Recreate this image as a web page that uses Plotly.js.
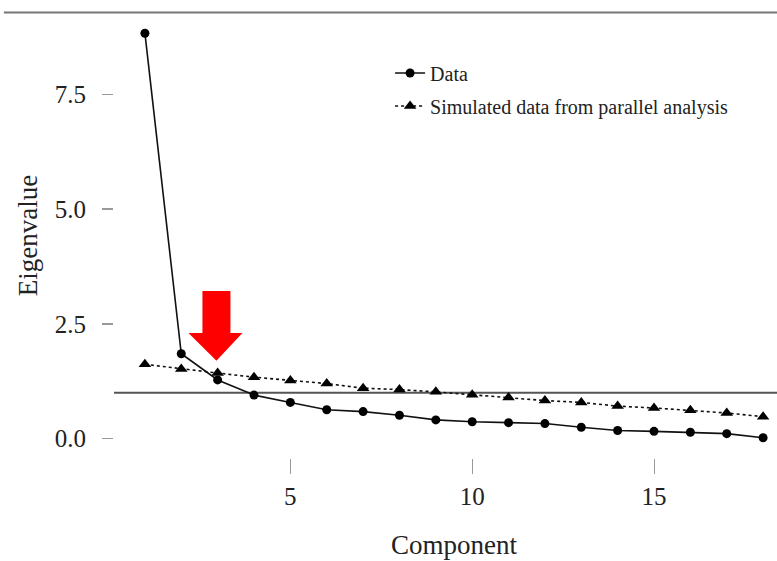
<!DOCTYPE html>
<html>
<head>
<meta charset="utf-8">
<script src="https://cdn.plot.ly/plotly-3.0.1.min.js"></script>
<style>
html,body{margin:0;padding:0;overflow:hidden;background:#fff;width:777px;height:561px;}
#chart{width:810px;height:561px;}
</style>
</head>
<body>
<div id="chart"></div>
<script>
const components = [1,2,3,4,5,6,7,8,9,10,11,12,13,14,15,16,17,18];
const dataEigen = [8.83,1.85,1.28,0.95,0.79,0.63,0.59,0.51,0.41,0.37,0.35,0.33,0.25,0.18,0.16,0.14,0.11,0.02];
const simEigen = [1.62,1.52,1.43,1.34,1.27,1.20,1.10,1.07,1.02,0.96,0.90,0.83,0.79,0.71,0.67,0.62,0.56,0.48];
const xTicks = [5,10,15];
const yTicks = [0,2.5,5,7.5];
const yTickLabels = ['0.0','2.5','5.0','7.5'];
const seriesNames = ['Data','Simulated data from parallel analysis'];

const font = 'Liberation Serif, Times New Roman, serif';
const txt = '#222';

const traces = [
  {x: components, y: dataEigen, name: seriesNames[0], type: 'scatter', mode: 'lines+markers',
   legendgroup: 'a',
   line: {color: '#111', width: 1.6}, marker: {symbol: 'circle', size: 9, color: '#000'}},
  {x: components, y: simEigen, name: seriesNames[1], type: 'scatter', mode: 'lines+markers',
   legendgroup: 'b',
   line: {color: '#111', width: 1.6, dash: '3px,3px'}, marker: {symbol: 'triangle-up', size: 11, color: '#000'}}
];

const layout = {
  width: 810, height: 561,
  margin: {l: 113.5, r: 16, t: 12.6, b: 102.7},
  paper_bgcolor: '#fff', plot_bgcolor: '#fff',
  font: {family: font, color: txt},
  showlegend: true,
  legend: {x: 0.406, y: 0.909, xanchor: 'left', yanchor: 'top', font: {family: font, size: 20, color: txt},
           bgcolor: 'rgba(0,0,0,0)', traceorder: 'grouped', tracegroupgap: 4},
  xaxis: {range: [0.15, 18.85], tickvals: xTicks, ticktext: xTicks.map(String),
          ticks: 'outside', ticklen: 15, tickwidth: 1, tickcolor: '#999',
          ticklabelstandoff: 1,
          showgrid: false, zeroline: false, showline: false,
          tickfont: {family: font, size: 25, color: txt},
          title: {text: 'Component', font: {family: font, size: 27, color: txt}, standoff: 26}},
  yaxis: {range: [-0.42, 9.27], tickvals: yTicks, ticktext: yTickLabels,
          ticks: 'outside', ticklen: 11, tickwidth: 1.5, tickcolor: '#999',
          ticklabelstandoff: 11,
          showgrid: false, zeroline: false, showline: false,
          tickfont: {family: font, size: 25, color: txt},
          title: {text: 'Eigenvalue', font: {family: font, size: 27, color: txt}, standoff: 9}},
  shapes: [
    {type: 'line', xref: 'paper', yref: 'y', x0: 0, x1: 1, y0: 1, y1: 1,
     line: {color: '#555', width: 2}, layer: 'below'},
    {type: 'line', xref: 'paper', yref: 'paper', x0: -0.162, x1: 1, y0: 1.001, y1: 1.001,
     line: {color: '#777', width: 2}},
    {type: 'path', xref: 'x', yref: 'y',
     path: 'M 2.582 3.217 L 3.352 3.217 L 3.352 2.304 L 3.681 2.304 L 2.967 1.696 L 2.198 2.304 L 2.582 2.304 Z',
     fillcolor: '#ff0000', line: {width: 0}}
  ]
};

Plotly.newPlot('chart', traces, layout, {displayModeBar: false, staticPlot: true});
</script>
</body>
</html>
